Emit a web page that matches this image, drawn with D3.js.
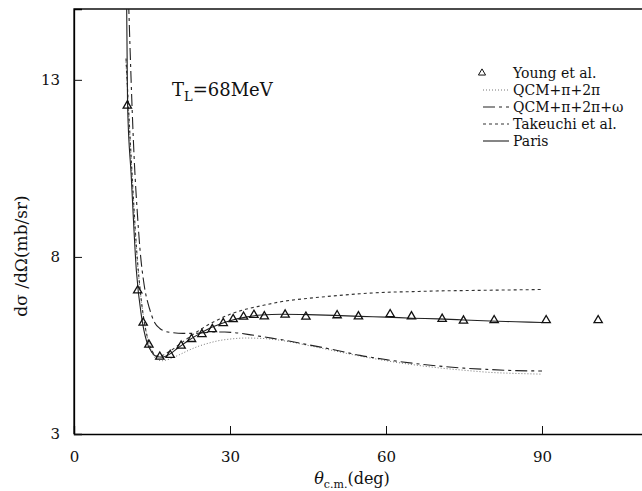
<!DOCTYPE html>
<html><head><meta charset="utf-8">
<script src="https://cdn.jsdelivr.net/npm/d3@7"></script>
<style>body{margin:0;background:#fff}svg{display:block}text{font-family:"DejaVu Serif",serif;fill:#111}</style>
</head><body>
<svg id="c" width="642" height="491"></svg>
<script>
const xTicks = [0, 30, 60, 90];
const yTicks = [3, 8, 13];
const youngX = [10.25, 12.25, 13.3, 14.4, 16.5, 18.5, 20.6, 22.6, 24.6, 26.6, 28.7, 30.6, 32.6, 34.6, 36.6, 40.6, 44.6, 50.6, 54.7, 60.8, 64.9, 70.8, 74.9, 80.8, 90.8, 100.8];
const youngY = [12.27, 7.05, 6.14, 5.52, 5.18, 5.23, 5.49, 5.68, 5.82, 5.96, 6.13, 6.24, 6.31, 6.36, 6.32, 6.37, 6.31, 6.35, 6.32, 6.38, 6.32, 6.25, 6.20, 6.21, 6.21, 6.21];
const parisX = [10.1, 10.3, 11, 12, 13, 14, 15, 16, 17, 18, 20, 22, 24, 26, 28, 30, 33, 36, 40, 45, 50, 55, 60, 65, 70, 75, 80, 85, 90];
const parisY = [15.5, 12.3, 10.3, 7.6, 6.3, 5.6, 5.3, 5.18, 5.17, 5.22, 5.43, 5.64, 5.82, 5.98, 6.1, 6.2, 6.3, 6.36, 6.38, 6.37, 6.35, 6.32, 6.3, 6.27, 6.25, 6.22, 6.19, 6.17, 6.15];
const takX = [10, 11, 12, 13, 14, 15, 16, 17, 18, 20, 22, 24, 26, 28, 30, 33, 36, 40, 45, 50, 55, 60, 65, 70, 75, 80, 90];
const takY = [13.6, 10.8, 8.3, 6.7, 5.8, 5.35, 5.2, 5.22, 5.3, 5.5, 5.72, 5.92, 6.1, 6.25, 6.38, 6.52, 6.62, 6.74, 6.83, 6.9, 6.96, 7.0, 7.02, 7.04, 7.05, 7.06, 7.08];
const qcmX = [10, 11, 12, 13, 14, 15, 16, 17, 18, 20, 22, 24, 26, 28, 30, 33, 36, 40, 45, 50, 55, 60, 65, 70, 75, 80, 85, 90];
const qcmY = [13.5, 10.7, 8.2, 6.7, 5.8, 5.3, 5.1, 5.07, 5.1, 5.22, 5.36, 5.48, 5.57, 5.64, 5.68, 5.71, 5.7, 5.64, 5.5, 5.35, 5.2, 5.07, 4.96, 4.87, 4.8, 4.74, 4.71, 4.69];
const omX = [10.5, 10.8, 11.2, 11.6, 12.2, 12.7, 13.5, 14.5, 15.5, 16.5, 17.5, 19, 21, 23, 25, 27, 29, 31, 34, 37, 40, 45, 50, 55, 60, 65, 70, 75, 80, 85, 90];
const omY = [15.2, 13.8, 12.1, 10.7, 9.2, 8.2, 7.2, 6.55, 6.15, 5.98, 5.9, 5.86, 5.84, 5.84, 5.86, 5.88, 5.88, 5.86, 5.8, 5.73, 5.66, 5.52, 5.38, 5.22, 5.1, 5.0, 4.92, 4.86, 4.82, 4.79, 4.78];
const legendLabels = ["Young et al.", "QCM+π+2π", "QCM+π+2π+ω", "Takeuchi et al.", "Paris"];

const svg = d3.select("#c");
const x = d3.scaleLinear().domain([0, 110]).range([74, 646]);
const y = d3.scaleLinear().domain([3, 15]).range([434, 9]);

svg.append("defs").append("clipPath").attr("id","clip").append("rect")
  .attr("x",74).attr("y",9).attr("width",572).attr("height",425);

// frame
svg.append("path").attr("d",`M74,434V9H646`).attr("fill","none").attr("stroke","#111").attr("stroke-width",1.3);

// x axis
const gx = svg.append("g").attr("transform","translate(0,434)");
gx.call(d3.axisBottom(x).tickValues(d3.range(0,111,6)).tickSize(-5).tickFormat(""));
gx.call(d3.axisBottom(x).tickValues(xTicks).tickSize(-8).tickPadding(17).tickFormat(d3.format("d")));
gx.selectAll(".domain").attr("stroke-width",1.3);
gx.selectAll("text").attr("font-size",15).attr("font-family","DejaVu Serif");
// y axis
const gy = svg.append("g").attr("transform","translate(74,0)");
gy.call(d3.axisLeft(y).tickValues(d3.range(3,16,1)).tickSize(-5).tickFormat(""));
gy.call(d3.axisLeft(y).tickValues(yTicks).tickSize(-8).tickPadding(14).tickFormat(d3.format("d")));
gy.selectAll(".domain").attr("stroke-width",1.3);
gy.selectAll("text").attr("font-size",15).attr("font-family","DejaVu Serif");
svg.selectAll(".tick line").attr("stroke","#111");

// axis titles
const yl = svg.append("text").attr("transform","translate(27,256) rotate(-90)").attr("text-anchor","middle").attr("font-size",17);
yl.append("tspan").text("dσ /dΩ(mb/sr)");
const xl = svg.append("text").attr("x",352).attr("y",484).attr("text-anchor","middle").attr("font-size",16);
xl.append("tspan").attr("font-style","italic").text("θ");
xl.append("tspan").attr("font-size",11).attr("dy",4).text("c.m.");
xl.append("tspan").attr("dy",-4).text("(deg)");

// annotation
const ann = svg.append("text").attr("x",172).attr("y",96).attr("font-size",18);
ann.append("tspan").text("T");
ann.append("tspan").attr("font-size",13).attr("dy",5).text("L");
ann.append("tspan").attr("dy",-5).text("=68MeV");

const line = d3.line().x(d=>x(d[0])).y(d=>y(d[1])).curve(d3.curveMonotoneX);
const plot = svg.append("g").attr("clip-path","url(#clip)");
const series = [
  {xs:qcmX, ys:qcmY, dash:"1,2", w:1, c:"#777"},
  {xs:omX, ys:omY, dash:"12,4,3,4", w:1.1, c:"#222"},
  {xs:takX, ys:takY, dash:"3,3", w:1.1, c:"#333"},
  {xs:parisX, ys:parisY, dash:null, w:1.1, c:"#222"}
];
series.forEach(s=>{
  plot.append("path").datum(d3.zip(s.xs,s.ys)).attr("d",line).attr("fill","none")
    .attr("stroke",s.c).attr("stroke-width",s.w).attr("stroke-dasharray",s.dash);
});
const tri = d3.symbol().type(d3.symbolTriangle).size(30);
plot.selectAll(".pt").data(d3.zip(youngX,youngY)).join("path").attr("class","pt")
  .attr("d",tri).attr("transform",d=>`translate(${x(d[0])},${y(d[1])})`)
  .attr("fill","none").attr("stroke","#111").attr("stroke-width",1.3);

// legend
const lg = svg.append("g");
legendLabels.forEach((t,i)=>{
  const yy = 73 + i*17;
  lg.append("text").attr("x",513).attr("y",yy+5).attr("font-size",14).text(t);
  if(i===0){
    lg.append("path").attr("d",d3.symbol().type(d3.symbolTriangle).size(22)).attr("transform",`translate(482,${yy})`)
      .attr("fill","none").attr("stroke","#111").attr("stroke-width",1);
  } else {
    const s = series[i-1];
    lg.append("line").attr("x1",483).attr("x2",509).attr("y1",yy).attr("y2",yy)
      .attr("stroke",s.c).attr("stroke-width",s.w).attr("stroke-dasharray",s.dash);
  }
});
</script>
</body></html>
